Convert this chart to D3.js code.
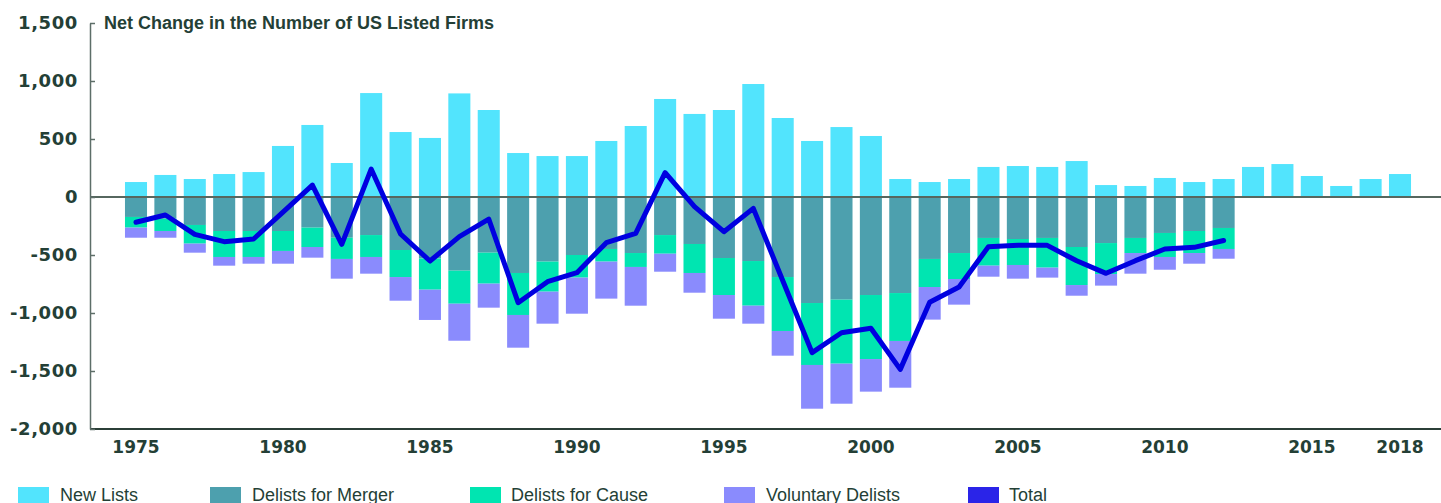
<!DOCTYPE html>
<html>
<head>
<meta charset="utf-8">
<script src="https://cdn.jsdelivr.net/npm/d3@7"></script>
<style>
  html, body { margin: 0; padding: 0; background: #fff; }
  svg { display: block; }
</style>
</head>
<body>
<svg id="chart" width="1441" height="503"></svg>
<script>
const years = d3.range(1975, 2019);
const newLists = [129,190,155,198,215,440,621,293,896,560,509,893,750,379,353,353,483,612,845,716,750,974,681,483,603,526,155,129,155,259,267,259,310,103,95,164,129,155,259,284,181,95,155,198];
const delistMerger = [-172,-187,-241,-293,-293,-293,-264,-351,-328,-457,-530,-635,-480,-655,-557,-500,-448,-483,-328,-405,-526,-552,-690,-914,-885,-845,-828,-534,-483,-353,-362,-353,-431,-397,-353,-310,-293,-267,0,0,0,0,0,0];
const delistCause = [-92,-106,-161,-224,-224,-172,-167,-183,-189,-233,-269,-285,-267,-362,-259,-195,-109,-120,-161,-250,-319,-385,-465,-534,-552,-552,-413,-242,-224,-239,-224,-256,-328,-267,-130,-207,-190,-181,0,0,0,0,0,0];
const delistVoluntary = [-87,-58,-78,-75,-58,-110,-92,-170,-144,-204,-261,-319,-207,-282,-276,-311,-319,-334,-155,-170,-204,-155,-213,-377,-345,-281,-403,-281,-221,-95,-118,-86,-92,-100,-178,-110,-92,-84,0,0,0,0,0,0];
const totalYears = d3.range(1975, 2013);
const totalValues = [-218,-155,-322,-385,-362,-130,103,-408,241,-319,-552,-342,-190,-911,-730,-652,-394,-313,210,-83,-299,-98,-720,-1342,-1170,-1132,-1486,-908,-776,-428,-417,-417,-550,-658,-549,-448,-434,-375];
const xTickYears = [1975,1980,1985,1990,1995,2000,2005,2010,2015,2018];
const yTicks = [-2000,-1500,-1000,-500,0,500,1000,1500];

const seriesKeys = ["New Lists","Delists for Merger","Delists for Cause","Voluntary Delists"];
const colors = {
  "New Lists": "#52e4fd",
  "Delists for Merger": "#4da0ae",
  "Delists for Cause": "#00e5b1",
  "Voluntary Delists": "#8a8bfd"
};
const lineColor = "#0000e0";
const textColor = "#243f36";

const table = years.map((y, i) => ({
  year: y,
  "New Lists": newLists[i],
  "Delists for Merger": delistMerger[i],
  "Delists for Cause": delistCause[i],
  "Voluntary Delists": delistVoluntary[i]
}));

const svg = d3.select("#chart");

const x = d3.scaleBand().domain(years).range([121.3, 1414.7]).paddingInner(0.25).paddingOuter(0.125);
const y = d3.scaleLinear().domain([-2000, 1500]).range([429, 23]);

const stack = d3.stack().keys(seriesKeys).offset(d3.stackOffsetDiverging);
const stacked = stack(table);

svg.append("g").selectAll("g")
  .data(stacked)
  .join("g")
  .attr("fill", d => colors[d.key])
  .selectAll("rect")
  .data(d => d)
  .join("rect")
  .attr("x", d => x(d.data.year))
  .attr("width", x.bandwidth())
  .attr("y", d => y(Math.max(d[0], d[1])))
  .attr("height", d => Math.abs(y(d[0]) - y(d[1])));

// zero line
svg.append("line")
  .attr("x1", 90).attr("x2", 1441)
  .attr("y1", y(0)).attr("y2", y(0))
  .attr("stroke", "#56675f").attr("stroke-width", 2);

// bottom axis line
svg.append("line")
  .attr("x1", 90).attr("x2", 1441)
  .attr("y1", y(-2000)).attr("y2", y(-2000))
  .attr("stroke", "#2b3f38").attr("stroke-width", 2);

// y axis
const fmt = d => d3.format(",")(d).replace("\u2212", "-");
const yAxis = svg.append("g")
  .attr("transform", "translate(90,0)")
  .call(d3.axisLeft(y).tickValues(yTicks).tickFormat(fmt).tickSizeInner(-5).tickSizeOuter(0).tickPadding(12));
yAxis.select(".domain").attr("stroke", "#5d6e68").attr("stroke-width", 1.5);
yAxis.selectAll(".tick line").attr("stroke", "#5d6e68").attr("stroke-width", 1.5);
yAxis.selectAll(".tick text")
  .attr("fill", textColor)
  .style("font-family", "'DejaVu Sans', sans-serif")
  .style("font-weight", "bold")
  .style("font-size", "18px")
  .style("letter-spacing", "0.6px");

// x axis
const xAxis = svg.append("g")
  .attr("transform", `translate(0,${y(-2000)})`)
  .call(d3.axisBottom(x).tickValues(xTickYears).tickSize(0).tickPadding(12));
xAxis.select(".domain").remove();
xAxis.selectAll(".tick text")
  .attr("fill", textColor)
  .style("font-family", "'DejaVu Sans', sans-serif")
  .style("font-weight", "bold")
  .style("font-size", "17px");

// total line
const line = d3.line()
  .x((d, i) => x(totalYears[i]) + x.bandwidth() / 2)
  .y(d => y(d));
svg.append("path")
  .datum(totalValues)
  .attr("fill", "none")
  .attr("stroke", lineColor)
  .attr("stroke-width", 5)
  .attr("stroke-linejoin", "round")
  .attr("stroke-linecap", "round")
  .attr("d", line);

// title
svg.append("text")
  .attr("x", 104).attr("y", 29)
  .attr("fill", textColor)
  .style("font-family", "'Liberation Sans', Arial, sans-serif")
  .style("font-weight", "bold")
  .style("font-size", "18px")
  .text("Net Change in the Number of US Listed Firms");

// legend
const legendItems = [
  {label: "New Lists", color: colors["New Lists"], sx: 18, tx: 60},
  {label: "Delists for Merger", color: colors["Delists for Merger"], sx: 210, tx: 252},
  {label: "Delists for Cause", color: colors["Delists for Cause"], sx: 470, tx: 511},
  {label: "Voluntary Delists", color: colors["Voluntary Delists"], sx: 724, tx: 766},
  {label: "Total", color: "#2a24e8", sx: 968, tx: 1009}
];
const lg = svg.append("g");
lg.selectAll("rect").data(legendItems).join("rect")
  .attr("x", d => d.sx).attr("y", 487).attr("width", 31).attr("height", 20)
  .attr("fill", d => d.color);
lg.selectAll("text").data(legendItems).join("text")
  .attr("x", d => d.tx).attr("y", 501)
  .attr("fill", textColor)
  .style("font-family", "'Liberation Sans', Arial, sans-serif")
  .style("font-size", "18px")
  .text(d => d.label);
</script>
</body>
</html>
